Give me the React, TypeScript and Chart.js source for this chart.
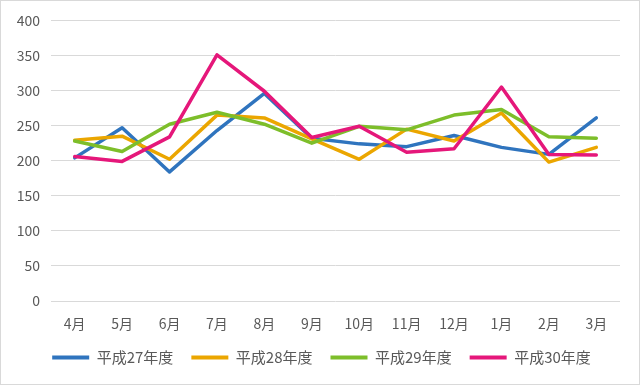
import React, { useEffect, useRef } from "react";
import { Chart, registerables } from "chart.js";

Chart.register(...registerables);

const months = ["4月", "5月", "6月", "7月", "8月", "9月", "10月", "11月", "12月", "1月", "2月", "3月"];
const seriesNames = ["平成27年度", "平成28年度", "平成29年度", "平成30年度"];
const h27 = [204, 247, 184, 243, 296, 232, 224, 220, 236, 219, 209, 261];
const h28 = [229, 235, 202, 265, 261, 231, 202, 245, 228, 268, 198, 219];
const h29 = [228, 213, 252, 269, 252, 225, 249, 244, 265, 273, 234, 232];
const h30 = [206, 199, 234, 351, 299, 233, 249, 212, 217, 305, 209, 208];
const colors = ["#2F74BE", "#EBA600", "#7DBE2A", "#E5177A"];
const yMin = 0;
const yMax = 400;
const yStep = 50;

const FONT = "'Noto Sans CJK JP', 'Noto Sans', sans-serif";
const TEXT = "#595959";

const legendShift = {
  id: "legendShift",
  afterLayout(chart: any) {
    const lg = chart.legend;
    if (lg) {
      lg.left += 9;
      lg.right += 9;
    }
  },
};

export default function App() {
  const ref = useRef<HTMLCanvasElement | null>(null);

  useEffect(() => {
    document.body.style.margin = "0";
    const canvas = ref.current;
    if (!canvas) return;
    const all = [h27, h28, h29, h30];
    const chart = new Chart(canvas, {
      type: "line",
      data: {
        labels: months,
        datasets: all.map((d, i) => ({
          label: seriesNames[i],
          data: d,
          borderColor: colors[i],
          backgroundColor: colors[i],
          borderWidth: 3.5,
          pointRadius: 0,
          pointHoverRadius: 0,
          tension: 0,
          fill: false,
          borderJoinStyle: "round" as const,
          borderCapStyle: "round" as const,
          order: 4 - i,
        })),
      },
      plugins: [legendShift],
      options: {
        animation: false,
        responsive: false,
        maintainAspectRatio: false,
        layout: { padding: { top: 10, right: 19, left: 4, bottom: 9 } },
        plugins: {
          tooltip: { enabled: false },
          legend: {
            position: "bottom",
            labels: {
              boxWidth: 37,
              boxHeight: 4,
              padding: 18,
              color: TEXT,
              font: { family: FONT, size: 15 },
              sort: (a: any, b: any) => a.datasetIndex - b.datasetIndex,
              generateLabels: (ch: any) =>
                ch.data.datasets.map((ds: any, i: number) => ({
                  text: ds.label,
                  fillStyle: colors[i],
                  strokeStyle: colors[i],
                  lineWidth: 0,
                  hidden: false,
                  datasetIndex: i,
                  fontColor: TEXT,
                })),
            },
          },
        },
        scales: {
          x: {
            offset: true,
            grid: { display: false, drawTicks: false },
            border: { display: false },
            ticks: { color: TEXT, font: { family: FONT, size: 14 }, padding: 14, maxRotation: 0, autoSkip: false },
            afterFit: (s: any) => {
              s.height = 31;
            },
          },
          y: {
            min: yMin,
            max: yMax,
            grid: { color: "#D9D9D9", lineWidth: 1, drawTicks: false },
            border: { display: false },
            ticks: { stepSize: yStep, color: TEXT, font: { family: FONT, size: 14 }, padding: 11 },
            afterFit: (s: any) => {
              s.width = 46;
            },
          },
        },
      },
    });
    return () => chart.destroy();
  }, []);

  return (
    <div
      style={{
        position: "fixed",
        left: 0,
        top: 0,
        width: 640,
        height: 385,
        boxSizing: "border-box",
        border: "1px solid #D9D9D9",
        background: "#fff",
      }}
    >
      <canvas ref={ref} width={638} height={383} style={{ display: "block", width: 638, height: 383 }} />
    </div>
  );
}
